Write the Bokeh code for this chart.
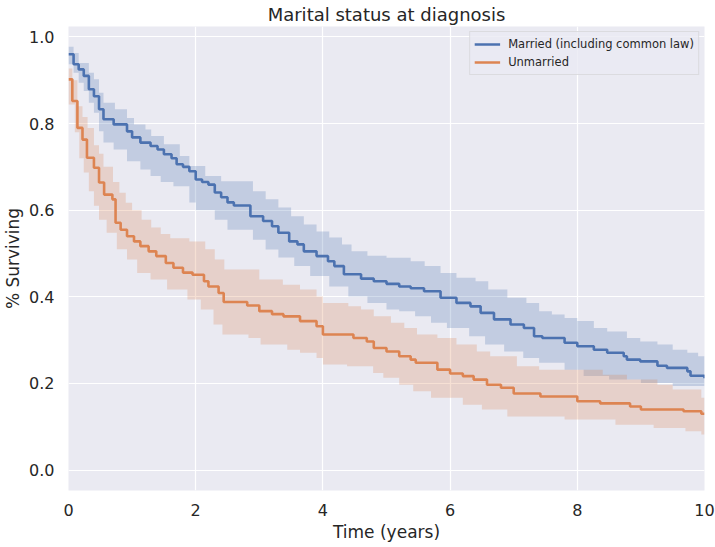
import numpy as np
from bokeh.plotting import figure
from bokeh.models import Range1d, FixedTicker, Legend, LegendItem, NumeralTickFormatter
from bokeh.embed import file_html
from bokeh.resources import INLINE

# ---- data ----
married_t = [0.00, 0.08, 0.16, 0.24, 0.32, 0.40, 0.48, 0.55, 0.71, 0.92, 1.00, 1.13, 1.29, 1.40, 1.50,
             1.62, 1.70, 1.80, 1.90, 2.00, 2.10, 2.20, 2.30, 2.40, 2.50, 2.60, 2.86, 3.06, 3.20, 3.30,
             3.47, 3.60, 3.70, 3.90, 4.08, 4.18, 4.33, 4.60, 4.80, 5.00, 5.20, 5.38, 5.59, 5.85, 6.10,
             6.32, 6.48, 6.69, 6.95, 7.16, 7.32, 7.45, 7.80, 8.00, 8.26, 8.47, 8.73, 8.78, 8.99, 9.26,
             9.41, 9.73, 9.78, 10.00]
married_s = [0.960, 0.937, 0.925, 0.910, 0.879, 0.863, 0.833, 0.810, 0.798, 0.782, 0.768, 0.756, 0.748, 0.740, 0.729,
             0.720, 0.706, 0.700, 0.690, 0.671, 0.665, 0.659, 0.641, 0.630, 0.618, 0.611, 0.586, 0.575, 0.563, 0.548,
             0.528, 0.521, 0.505, 0.494, 0.482, 0.471, 0.452, 0.442, 0.436, 0.430, 0.424, 0.420, 0.413, 0.398, 0.386,
             0.378, 0.363, 0.348, 0.336, 0.328, 0.309, 0.305, 0.294, 0.286, 0.278, 0.271, 0.263, 0.255, 0.251, 0.241,
             0.236, 0.228, 0.218, 0.212]

married_hi_t = [0.00, 0.08, 0.16, 0.32, 0.40, 0.48, 0.55, 0.73, 0.92, 1.03, 1.21, 1.30, 1.50, 1.75, 1.90,
                2.15, 2.40, 2.90, 3.10, 3.30, 3.50, 3.70, 3.90, 4.10, 4.30, 4.45, 4.70, 5.00, 5.38, 5.60,
                5.85, 6.10, 6.40, 6.60, 6.90, 7.20, 7.40, 7.60, 7.80, 8.00, 8.26, 8.47, 8.78, 8.99, 9.26,
                9.50, 9.73, 9.90, 10.00]
married_hi = [0.977, 0.963, 0.940, 0.917, 0.902, 0.871, 0.848, 0.833, 0.813, 0.798, 0.786, 0.771, 0.752, 0.725, 0.702,
              0.679, 0.667, 0.644, 0.625, 0.606, 0.586, 0.567, 0.551, 0.537, 0.521, 0.505, 0.495, 0.490, 0.482, 0.471,
              0.455, 0.444, 0.436, 0.417, 0.398, 0.386, 0.367, 0.359, 0.351, 0.344, 0.328, 0.320, 0.305, 0.297, 0.290,
              0.278, 0.271, 0.263, 0.263]

married_lo_t = [0.00, 0.08, 0.16, 0.24, 0.32, 0.40, 0.48, 0.55, 0.71, 0.92, 1.13, 1.29, 1.45, 1.65, 1.90,
                2.00, 2.30, 2.50, 2.90, 3.10, 3.30, 3.55, 3.80, 4.10, 4.40, 4.70, 5.00, 5.20, 5.45, 5.70,
                5.95, 6.30, 6.55, 6.85, 7.15, 7.40, 7.80, 8.10, 8.50, 9.00, 9.50, 10.00]
married_lo = [0.937, 0.917, 0.894, 0.875, 0.848, 0.825, 0.782, 0.756, 0.740, 0.713, 0.694, 0.679, 0.665, 0.655, 0.618,
              0.600, 0.578, 0.555, 0.532, 0.509, 0.491, 0.471, 0.448, 0.424, 0.401, 0.386, 0.371, 0.367, 0.355, 0.340,
              0.328, 0.309, 0.290, 0.274, 0.259, 0.248, 0.232, 0.217, 0.209, 0.201, 0.194, 0.194]

unmarried_t = [0.00, 0.06, 0.14, 0.22, 0.29, 0.40, 0.48, 0.56, 0.69, 0.74, 0.82, 0.92, 1.03, 1.13, 1.26,
               1.38, 1.53, 1.65, 1.80, 1.95, 2.13, 2.20, 2.36, 2.44, 2.81, 3.00, 3.20, 3.38, 3.64, 3.90,
               4.00, 4.48, 4.69, 4.80, 5.00, 5.20, 5.38, 5.46, 5.80, 6.00, 6.20, 6.37, 6.58, 6.80, 7.00,
               7.42, 8.00, 8.36, 8.83, 9.00, 9.67, 9.95, 10.00]
unmarried_s = [0.902, 0.852, 0.790, 0.763, 0.721, 0.698, 0.664, 0.636, 0.625, 0.571, 0.555, 0.540, 0.528, 0.517, 0.505,
               0.494, 0.478, 0.467, 0.456, 0.451, 0.436, 0.424, 0.409, 0.388, 0.380, 0.367, 0.360, 0.355, 0.344, 0.332,
               0.313, 0.305, 0.297, 0.282, 0.274, 0.263, 0.255, 0.248, 0.232, 0.223, 0.217, 0.209, 0.197, 0.190, 0.177,
               0.170, 0.159, 0.154, 0.147, 0.140, 0.136, 0.130, 0.130]

unmarried_hi_t = [0.00, 0.06, 0.14, 0.22, 0.30, 0.40, 0.48, 0.55, 0.70, 0.80, 0.90, 1.00, 1.15, 1.30, 1.45,
                  1.60, 1.90, 2.15, 2.30, 2.45, 3.00, 3.37, 3.64, 3.90, 4.00, 4.40, 4.60, 4.80, 5.07, 5.28,
                  5.48, 5.80, 6.10, 6.42, 6.63, 7.05, 7.40, 8.40, 8.78, 9.26, 9.50, 9.95, 10.00]
unmarried_hi = [0.927, 0.900, 0.840, 0.815, 0.790, 0.750, 0.730, 0.700, 0.665, 0.640, 0.617, 0.600, 0.578, 0.560, 0.545,
                0.535, 0.528, 0.510, 0.486, 0.463, 0.440, 0.428, 0.417, 0.401, 0.386, 0.378, 0.371, 0.355, 0.340, 0.328,
                0.313, 0.305, 0.290, 0.274, 0.263, 0.240, 0.232, 0.220, 0.209, 0.197, 0.186, 0.167, 0.167]

unmarried_lo_t = [0.00, 0.10, 0.17, 0.24, 0.32, 0.40, 0.48, 0.60, 0.76, 0.92, 1.08, 1.29, 1.55, 1.87, 2.08,
                  2.28, 2.42, 2.83, 3.02, 3.44, 3.64, 3.90, 4.00, 4.38, 4.79, 4.95, 5.20, 5.42, 5.70, 6.20,
                  6.50, 6.90, 7.80, 8.60, 9.20, 9.70, 9.95, 10.00]
unmarried_lo = [0.844, 0.780, 0.720, 0.687, 0.644, 0.610, 0.578, 0.548, 0.510, 0.486, 0.455, 0.440, 0.417, 0.394, 0.371,
                0.336, 0.313, 0.305, 0.290, 0.278, 0.271, 0.259, 0.244, 0.240, 0.224, 0.213, 0.197, 0.182, 0.167, 0.151,
                0.140, 0.124, 0.117, 0.105, 0.097, 0.090, 0.082, 0.082]

x_ticks = [0, 2, 4, 6, 8, 10]
y_ticks = [0.0, 0.2, 0.4, 0.6, 0.8, 1.0]

series_names = ["Married (including common law)", "Unmarried"]
colors = ["#4C72B0", "#DD8452"]

FONT = "DejaVu Sans"


def merge_band(t_hi, hi, t_lo, lo):
    """Put both band edges on a common grid of step times (value held since last change)."""
    t = np.union1d(t_hi, t_lo)
    ih = np.searchsorted(t_hi, t, side="right") - 1
    il = np.searchsorted(t_lo, t, side="right") - 1
    return t, np.asarray(hi)[ih], np.asarray(lo)[il]


p = figure(frame_width=636, frame_height=464,
           x_range=Range1d(0, 10), y_range=Range1d(-0.047, 1.024),
           output_backend="svg", toolbar_location=None,
           min_border_left=60, min_border_right=11, min_border_top=23, min_border_bottom=52,
           background_fill_color="#EAEAF2", border_fill_color="white")
p.outline_line_color = None

p.title.text = "Marital status at diagnosis"
p.title.align = "center"
p.title.text_font = FONT
p.title.text_font_size = "18px"
p.title.text_font_style = "normal"
p.title.text_color = "#262626"
p.title.standoff = 3
p.title.offset = 0

bands = [merge_band(married_hi_t, married_hi, married_lo_t, married_lo),
         merge_band(unmarried_hi_t, unmarried_hi, unmarried_lo_t, unmarried_lo)]
lines = [(married_t, married_s), (unmarried_t, unmarried_s)]

renderers = []
for (bt, bh, bl), c in zip(bands, colors):
    p.varea_step(x=bt, y1=bl, y2=bh, step_mode="after", fill_color=c, fill_alpha=0.25)
for (lt, ls), c in zip(lines, colors):
    r = p.step(x=lt, y=ls, mode="after", line_color=c, line_width=2.6)
    renderers.append(r)

# axes
for ax in (p.xaxis[0], p.yaxis[0]):
    ax.axis_line_color = None
    ax.major_tick_line_color = None
    ax.minor_tick_line_color = None
    ax.major_tick_out = 0
    ax.major_tick_in = 0
    ax.major_label_text_font = FONT
    ax.major_label_text_font_size = "16px"
    ax.major_label_text_color = "#262626"
    ax.axis_label_text_font = FONT
    ax.axis_label_text_font_size = "17px"
    ax.axis_label_text_font_style = "normal"
    ax.axis_label_text_color = "#262626"

p.xaxis.ticker = FixedTicker(ticks=x_ticks)
p.yaxis.ticker = FixedTicker(ticks=y_ticks)
p.yaxis.formatter = NumeralTickFormatter(format="0.0")
p.xaxis.axis_label = "Time (years)"
p.yaxis.axis_label = "% Surviving"
p.xaxis.major_label_standoff = 13
p.yaxis.major_label_standoff = 14
p.xaxis.axis_label_standoff = 3
p.yaxis.axis_label_standoff = 3

p.xgrid.ticker = FixedTicker(ticks=x_ticks)
p.ygrid.ticker = FixedTicker(ticks=y_ticks)
p.grid.grid_line_color = "white"
p.grid.grid_line_width = 1.2

legend = Legend(items=[LegendItem(label=n, renderers=[r]) for n, r in zip(series_names, renderers)],
                location="top_right")
legend.margin = 5
legend.padding = 4
legend.spacing = 2
legend.glyph_width = 26
legend.glyph_height = 16
legend.label_height = 16
legend.label_standoff = 8
legend.label_text_font = FONT
legend.label_text_font_size = "11.5px"
legend.label_text_color = "#262626"
legend.background_fill_color = "#EAEAF2"
legend.background_fill_alpha = 0.8
legend.border_line_color = "#CCCCCC"
legend.border_line_width = 1
p.add_layout(legend, "center")

open("out.html", "w").write(file_html(p, INLINE))
